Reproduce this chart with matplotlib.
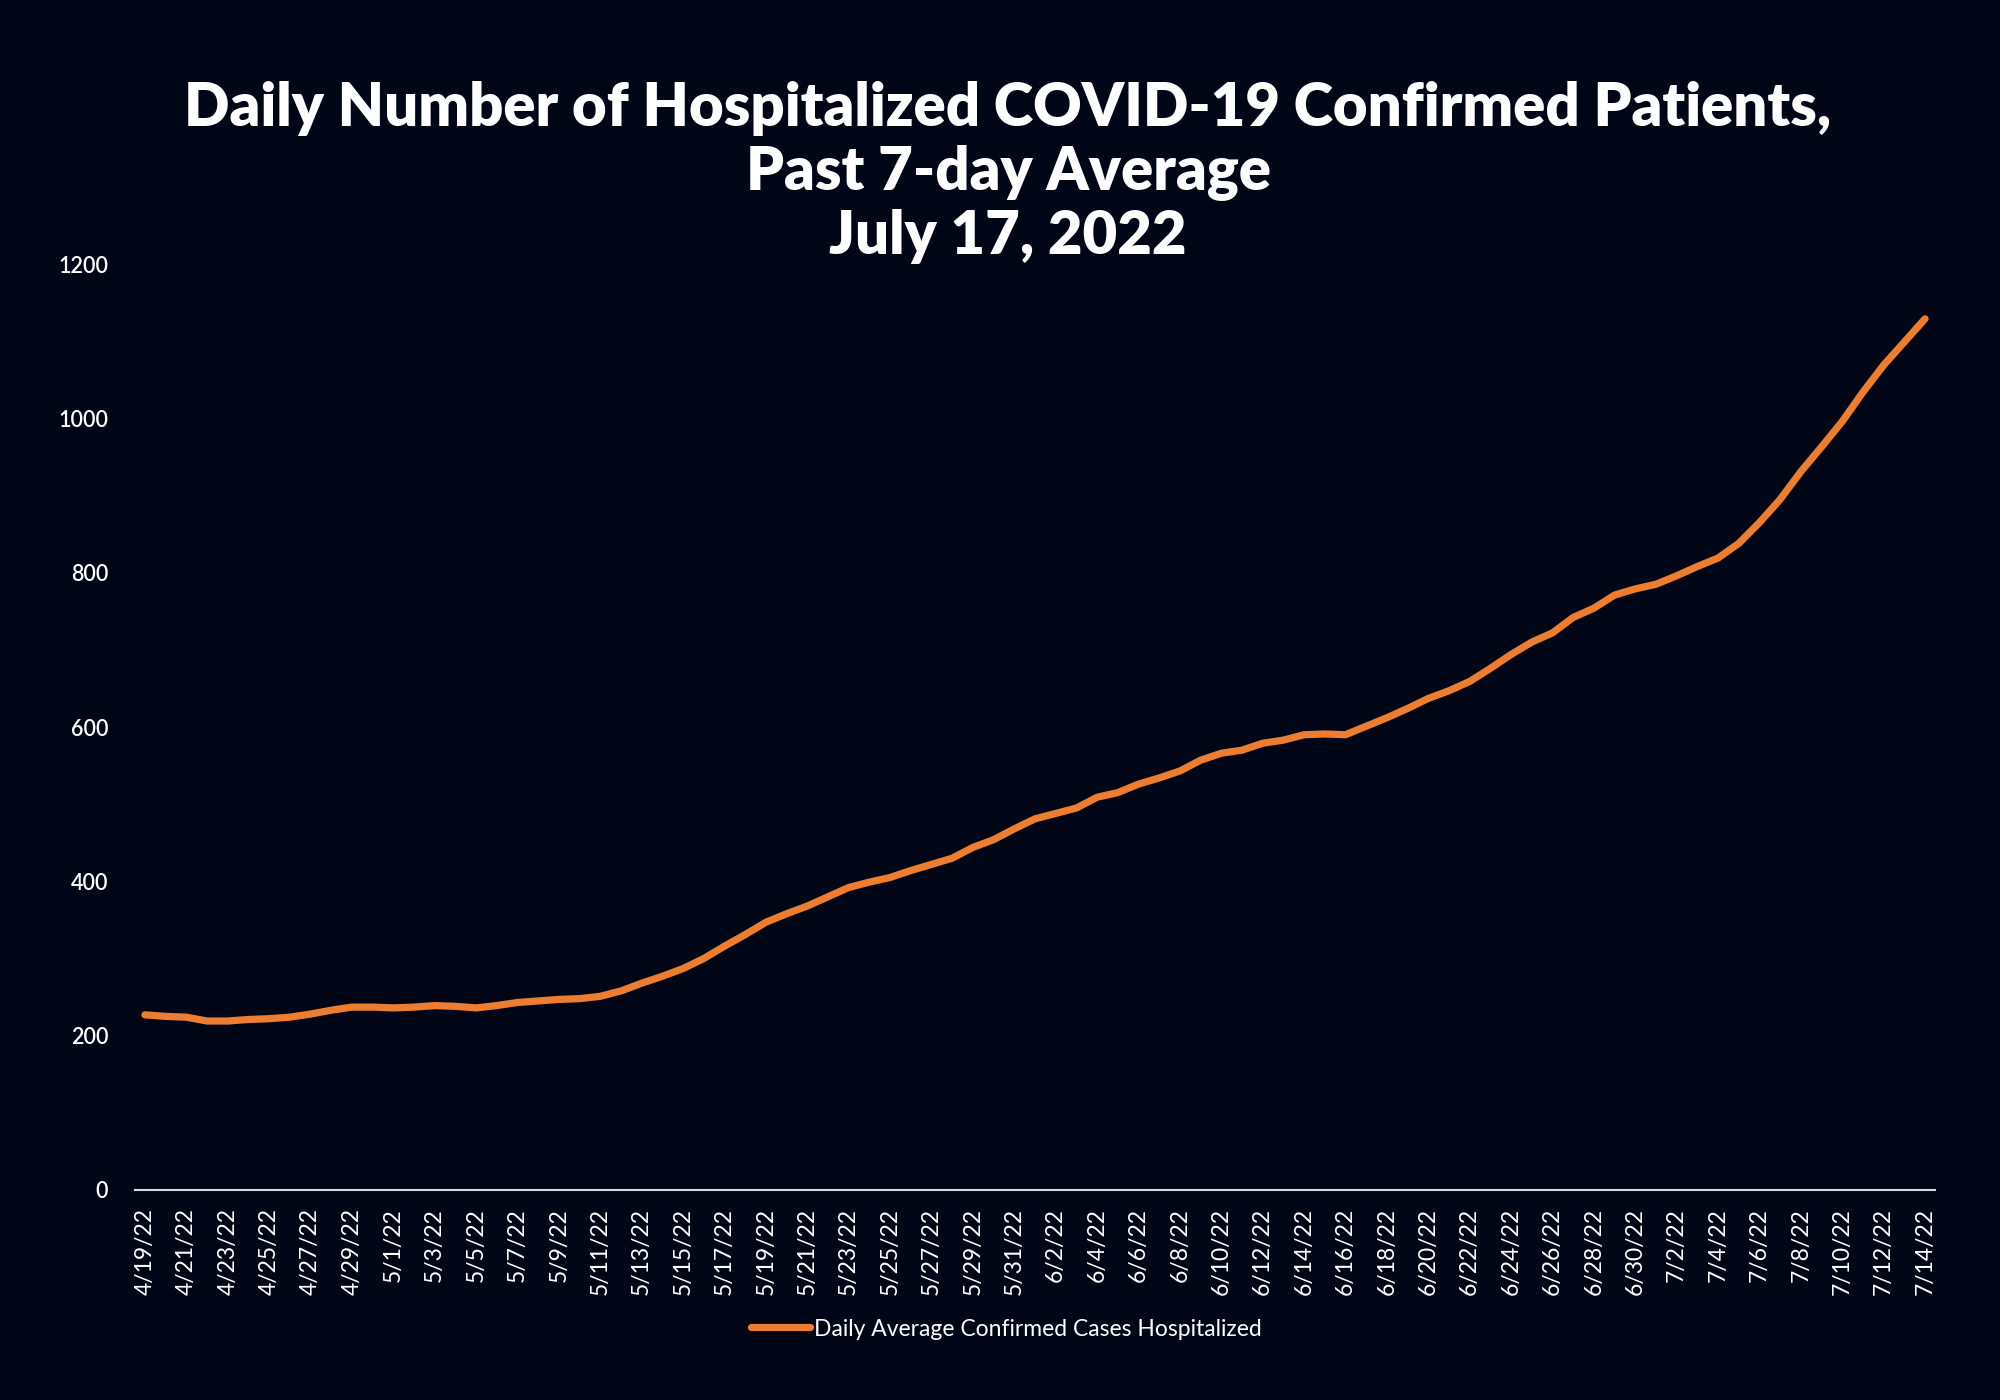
import matplotlib
matplotlib.use("Agg")
import matplotlib.pyplot as plt
import pandas as pd

# ---- data ----
start_date = "2022-04-19"
end_date = "2022-07-14"
dates = pd.date_range(start_date, end_date, freq="D")
hospitalized_avg = [
    227, 225, 224, 219, 219, 221, 222, 224, 228, 233,
    237, 237, 236, 237, 239, 238, 236, 239, 243, 245,
    247, 248, 251, 258, 268, 277, 287, 300, 316, 331,
    347, 358, 368, 380, 392, 399, 405, 414, 422, 430,
    444, 454, 468, 481, 488, 495, 509, 515, 526, 534,
    543, 557, 566, 570, 579, 583, 590, 591, 590, 601,
    612, 624, 637, 647, 659, 676, 694, 710, 722, 742,
    754, 771, 779, 785, 796, 808, 819, 838, 865, 895,
    931, 963, 996, 1034, 1069, 1099, 1129,
]
series_label = "Daily Average Confirmed Cases Hospitalized"
title_lines = [
    "Daily Number of Hospitalized COVID-19 Confirmed Patients,",
    "Past 7-day Average",
    "July 17, 2022",
]
y_ticks = [0, 200, 400, 600, 800, 1000, 1200]

# ---- style ----
BG = "#010616"
ORANGE = "#ED7D31"
plt.rcParams["font.family"] = ["Lato", "DejaVu Sans"]

fig = plt.figure(figsize=(20, 14), dpi=100, facecolor=BG)
ax = fig.add_axes([0.0673, 0.15, 0.9004, 0.6614], facecolor=BG)

x = list(range(len(dates)))
line, = ax.plot(x, hospitalized_avg, color=ORANGE, linewidth=5.2,
                solid_capstyle="round", solid_joinstyle="round",
                label=series_label)

ax.set_xlim(-0.5, len(dates) - 0.5)
ax.set_ylim(0, 1200)
ax.set_yticks(y_ticks)
ax.set_yticklabels([str(v) for v in y_ticks], fontsize=15.5, color="white",
                   fontweight="semibold")

tick_idx = x[::2]
ax.set_xticks(tick_idx)
ax.set_xticklabels([f"{d.month}/{d.day}/{d.strftime('%y')}" for d in dates[::2]],
                   rotation=90, fontsize=16.5, color="white")

ax.tick_params(axis="x", length=0, pad=13)
ax.tick_params(axis="y", length=0, pad=19)
for side in ["left", "right", "top"]:
    ax.spines[side].set_visible(False)
ax.spines["bottom"].set_color("#d9d9d9")
ax.spines["bottom"].set_linewidth(1.5)

# title
for i, t in enumerate(title_lines):
    fig.text(0.504, 1 - (108 + 64.5 * i) / 1400, t, ha="center", va="center",
             fontsize=43, fontweight="heavy", color="white")

leg = fig.legend(handles=[line], loc="center", bbox_to_anchor=(0.503, 1 - 1329 / 1400),
                 frameon=False, fontsize=16.5, handlelength=2.6, handletextpad=0.15,
                 labelcolor="white")

fig.savefig("out.png", dpi=100, facecolor=BG)
